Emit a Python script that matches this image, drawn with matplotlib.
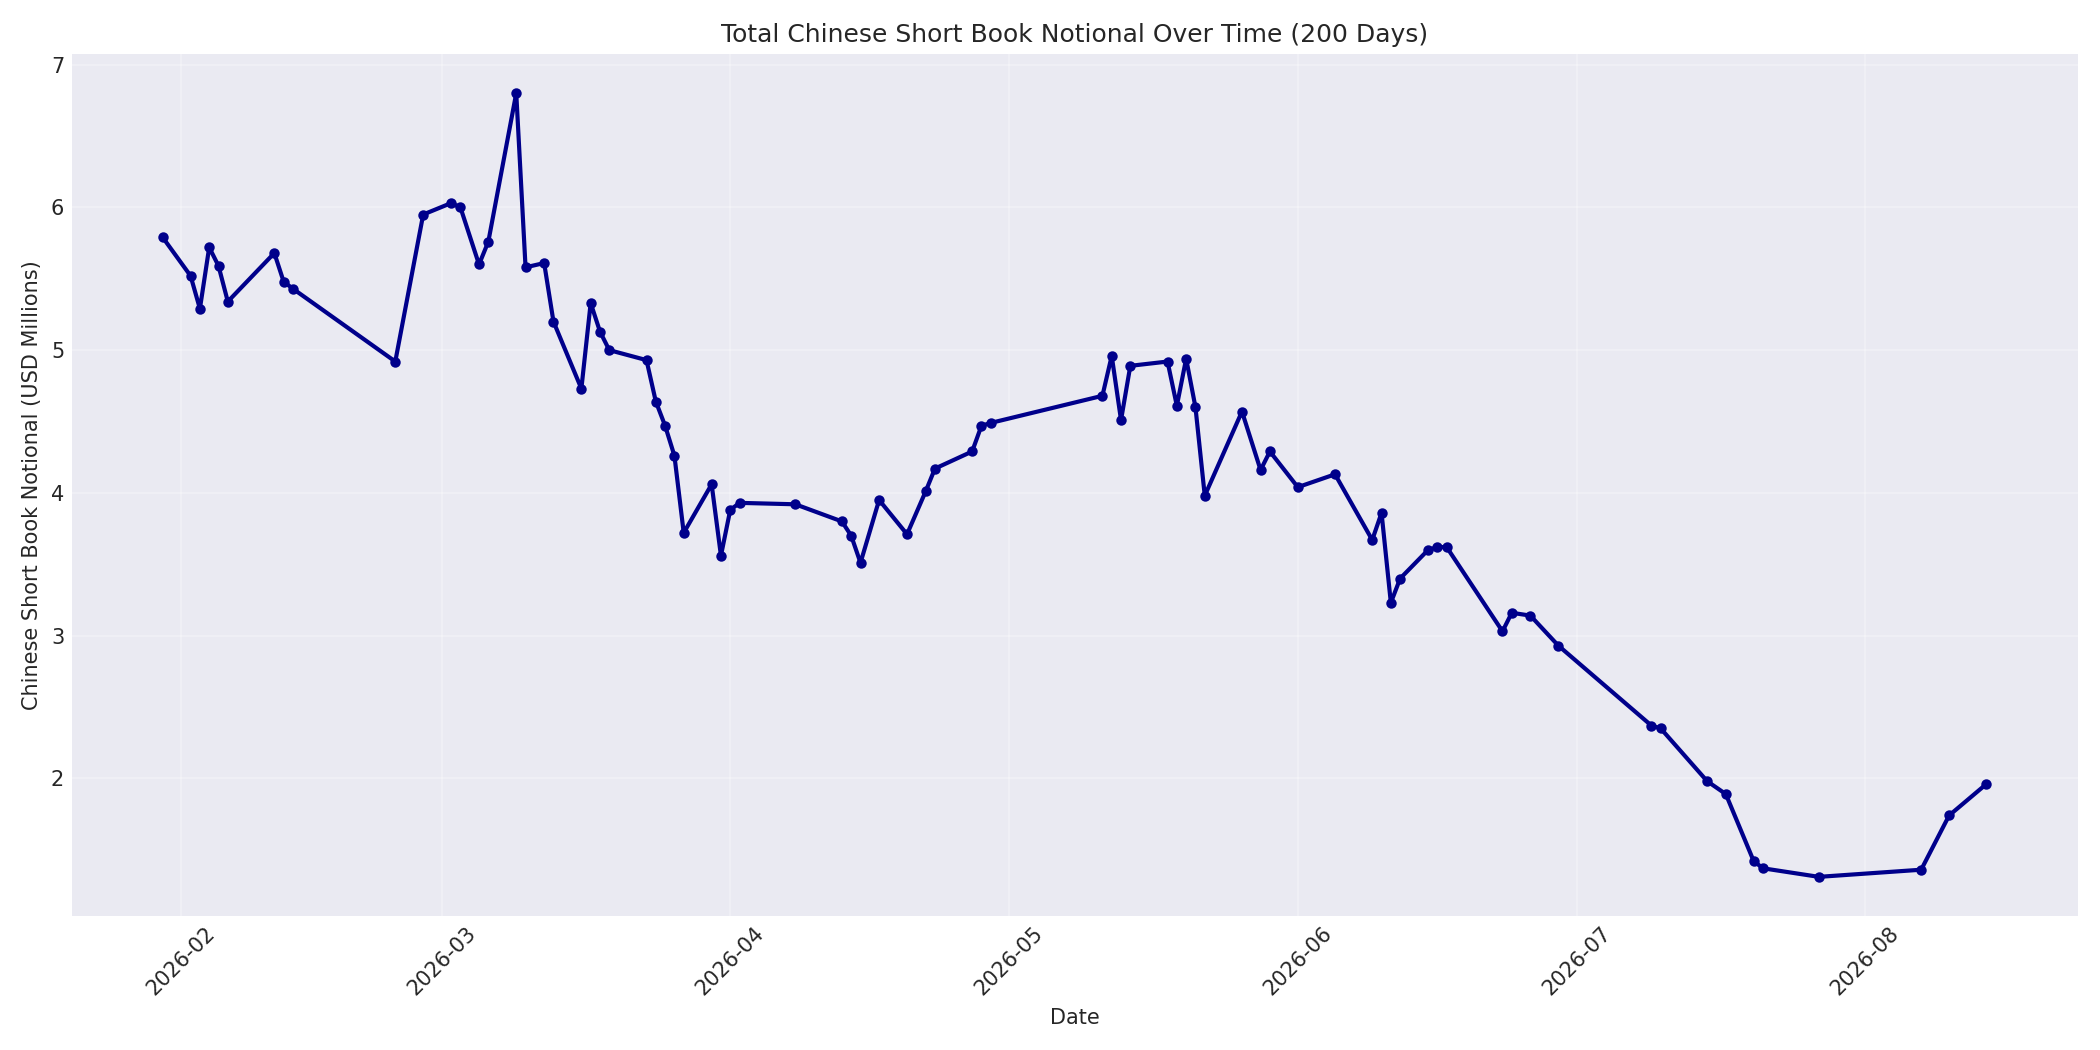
import matplotlib
matplotlib.use('Agg')
import matplotlib.pyplot as plt
import pandas as pd

# Chinese short book notional, USD millions
dates = ['2026-01-30', '2026-02-02', '2026-02-03', '2026-02-04', '2026-02-05', '2026-02-06',
         '2026-02-11', '2026-02-12', '2026-02-13', '2026-02-24', '2026-02-27',
         '2026-03-02', '2026-03-03', '2026-03-05', '2026-03-06', '2026-03-09', '2026-03-10',
         '2026-03-12', '2026-03-13', '2026-03-16', '2026-03-17', '2026-03-18', '2026-03-19',
         '2026-03-23', '2026-03-24', '2026-03-25', '2026-03-26', '2026-03-27', '2026-03-30',
         '2026-03-31', '2026-04-01', '2026-04-02', '2026-04-08', '2026-04-13', '2026-04-14',
         '2026-04-15', '2026-04-17', '2026-04-20', '2026-04-22', '2026-04-23', '2026-04-27',
         '2026-04-28', '2026-04-29', '2026-05-11', '2026-05-12', '2026-05-13', '2026-05-14',
         '2026-05-18', '2026-05-19', '2026-05-20', '2026-05-21', '2026-05-22', '2026-05-26',
         '2026-05-28', '2026-05-29', '2026-06-01', '2026-06-05', '2026-06-09', '2026-06-10',
         '2026-06-11', '2026-06-12', '2026-06-15', '2026-06-16', '2026-06-17', '2026-06-23',
         '2026-06-24', '2026-06-26', '2026-06-29', '2026-07-09', '2026-07-10', '2026-07-15',
         '2026-07-17', '2026-07-20', '2026-07-21', '2026-07-27', '2026-08-07', '2026-08-10',
         '2026-08-14']
notional = [5.79, 5.52, 5.29, 5.72, 5.59, 5.34,
            5.68, 5.48, 5.43, 4.92, 5.95,
            6.03, 6.00, 5.60, 5.76, 6.80, 5.58,
            5.61, 5.20, 4.73, 5.33, 5.13, 5.00,
            4.93, 4.64, 4.47, 4.26, 3.72, 4.06,
            3.56, 3.88, 3.93, 3.92, 3.80, 3.70,
            3.51, 3.95, 3.71, 4.01, 4.17, 4.29,
            4.47, 4.49, 4.68, 4.96, 4.51, 4.89,
            4.92, 4.61, 4.94, 4.60, 3.98, 4.57,
            4.16, 4.29, 4.04, 4.13, 3.67, 3.86,
            3.23, 3.40, 3.60, 3.62, 3.62, 3.03,
            3.16, 3.14, 2.93, 2.37, 2.35, 1.98,
            1.89, 1.42, 1.37, 1.31, 1.36, 1.74,
            1.96]

plt.style.use('seaborn-v0_8-darkgrid')
plt.rcParams['font.family'] = ['DejaVu Sans']

x = pd.to_datetime(dates)

fig, ax = plt.subplots(figsize=(14, 7), dpi=150)
ax.plot(x, notional, marker='o', linestyle='-', color='darkblue',
        linewidth=2, markersize=4)
ax.set_title('Total Chinese Short Book Notional Over Time (200 Days)')
ax.set_xlabel('Date')
ax.set_ylabel('Chinese Short Book Notional (USD Millions)')
ax.grid(True, alpha=0.3)
plt.xticks(rotation=45)
plt.tight_layout()
plt.savefig('out.png')
plt.close(fig)
